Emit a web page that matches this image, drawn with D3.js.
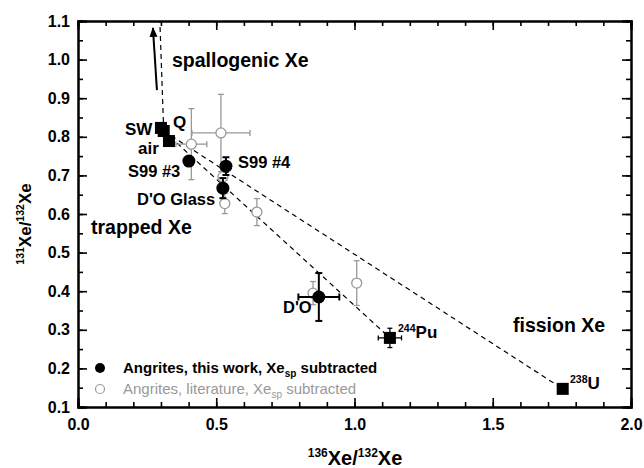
<!DOCTYPE html>
<html>
<head>
<meta charset="utf-8">
<script src="https://cdn.jsdelivr.net/npm/d3@7"></script>
<style>
  html, body { margin: 0; padding: 0; background: #fff; }
  svg { display: block; font-family: "Liberation Sans", Arial, Helvetica, sans-serif; }
  .axis path, .axis line { stroke: #000; }
  .axis path { stroke-width: 2; }
  .axis line { stroke-width: 1.6; }
  .axis text { font-size: 16px; font-weight: bold; fill: #000; }
</style>
</head>
<body>
<svg id="chart" width="644" height="468"></svg>
<script>
// Xe isotope ratios: x = 136Xe/132Xe, y = 131Xe/132Xe
const xMajorTicks = [0.0, 0.5, 1.0, 1.5, 2.0];
const yMajorTicks = [0.1, 0.2, 0.3, 0.4, 0.5, 0.6, 0.7, 0.8, 0.9, 1.0, 1.1];

// Reference compositions (filled squares)
const refNames = ["SW", "Q", "air", "244Pu", "238U"];
const refX     = [0.300, 0.310, 0.329, 1.128, 1.753];
const refY     = [0.823, 0.815, 0.789, 0.279, 0.147];
const refXErr  = [0, 0, 0, 0.042, 0];
const refYErr  = [0, 0, 0, 0.025, 0];

// Angrites, this work (filled circles)
const workNames = ["S99 #3", "S99 #4", "D'O Glass", "D'O"];
const workX     = [0.401, 0.535, 0.524, 0.871];
const workY     = [0.737, 0.724, 0.667, 0.385];
const workXErr  = [0, 0, 0, 0.074];
const workYErr  = [0, 0.023, 0.026, 0.062];

// Angrites, literature (open circles)
const litX    = [0.410, 0.517, 0.524, 0.531, 0.647, 0.850, 1.008];
const litY    = [0.781, 0.810, 0.696, 0.627, 0.605, 0.395, 0.421];
const litXErr = [0.056, 0.105, 0, 0, 0, 0, 0];
const litYErr = [0.092, 0.100, 0.020, 0.026, 0.035, 0.030, 0.058];

// Mixing lines from Q towards fission end-members and the spallation direction
const lineStart = [0.310, 0.815];
const lineEnds  = [[1.128, 0.279], [1.753, 0.147], [0.296, 1.100]];
const spallArrow = [[0.2855, 0.921], [0.271, 1.082]];

const svg = d3.select("#chart");
const L = 78, R = 631, T = 21, B = 407;
const x = d3.scaleLinear().domain([0, 2]).range([L, R]);
const y = d3.scaleLinear().domain([0.1, 1.1]).range([B, T]);

const defs = svg.append("defs");
defs.append("marker")
  .attr("id", "head").attr("viewBox", "0 0 10 10")
  .attr("refX", 9).attr("refY", 5)
  .attr("markerWidth", 5).attr("markerHeight", 5)
  .attr("orient", "auto")
  .append("path").attr("d", "M0,1 L10,5 L0,9 Z").attr("fill", "#000");

// Axes: ticks point inward on all four sides
const fmt = d3.format(".1f");
const xMinor = d3.range(0, 2.0001, 0.1);
const yMinor = d3.range(0.1, 1.1001, 0.05);

function addAxis(gen, tr, cls) {
  return svg.append("g").attr("class", "axis " + (cls || "")).attr("transform", tr).call(gen);
}
addAxis(d3.axisBottom(x).tickValues(xMinor).tickSize(-5).tickFormat(""), `translate(0,${B})`);
addAxis(d3.axisBottom(x).tickValues(xMajorTicks).tickSize(-9).tickPadding(12).tickFormat(fmt), `translate(0,${B})`);
addAxis(d3.axisTop(x).tickValues(xMinor).tickSize(-5).tickFormat(""), `translate(0,${T})`);
addAxis(d3.axisTop(x).tickValues(xMajorTicks).tickSize(-9).tickFormat(""), `translate(0,${T})`);
addAxis(d3.axisLeft(y).tickValues(yMinor).tickSize(-5).tickFormat(""), `translate(${L},0)`);
addAxis(d3.axisLeft(y).tickValues(yMajorTicks).tickSize(-9).tickPadding(8).tickFormat(fmt), `translate(${L},0)`);
addAxis(d3.axisRight(y).tickValues(yMinor).tickSize(-5).tickFormat(""), `translate(${R},0)`);
addAxis(d3.axisRight(y).tickValues(yMajorTicks).tickSize(-9).tickFormat(""), `translate(${R},0)`);
svg.selectAll(".axis .domain").attr("stroke-width", 2);

// Dashed mixing / spallation lines
const plot = svg.append("g");
lineEnds.forEach(e => {
  plot.append("line")
    .attr("x1", x(lineStart[0])).attr("y1", y(lineStart[1]))
    .attr("x2", x(e[0])).attr("y2", y(e[1]))
    .attr("stroke", "#000").attr("stroke-width", 1.2)
    .attr("stroke-dasharray", "5,4");
});
plot.append("line")
  .attr("x1", x(spallArrow[0][0])).attr("y1", y(spallArrow[0][1]))
  .attr("x2", x(spallArrow[1][0])).attr("y2", y(spallArrow[1][1]))
  .attr("stroke", "#000").attr("stroke-width", 2)
  .attr("marker-end", "url(#head)");

function errorBars(g, xs, ys, xe, ye, color, cap, sw) {
  xs.forEach((xv, i) => {
    if (xe[i] > 0) {
      const x0 = x(xv - xe[i]), x1 = x(xv + xe[i]), yy = y(ys[i]);
      g.append("line").attr("x1", x0).attr("x2", x1).attr("y1", yy).attr("y2", yy)
        .attr("stroke", color).attr("stroke-width", sw);
      [x0, x1].forEach(xc => g.append("line").attr("x1", xc).attr("x2", xc)
        .attr("y1", yy - cap).attr("y2", yy + cap).attr("stroke", color).attr("stroke-width", sw));
    }
    if (ye[i] > 0) {
      const y0 = y(ys[i] - ye[i]), y1 = y(ys[i] + ye[i]), xx = x(xv);
      g.append("line").attr("x1", xx).attr("x2", xx).attr("y1", y0).attr("y2", y1)
        .attr("stroke", color).attr("stroke-width", sw);
      [y0, y1].forEach(yc => g.append("line").attr("y1", yc).attr("y2", yc)
        .attr("x1", xx - cap).attr("x2", xx + cap).attr("stroke", color).attr("stroke-width", sw));
    }
  });
}

// Literature data (grey, open)
const litG = svg.append("g");
errorBars(litG, litX, litY, litXErr, litYErr, "#999", 3, 1.3);
litG.selectAll("circle").data(litX).join("circle")
  .attr("cx", (d, i) => x(d)).attr("cy", (d, i) => y(litY[i])).attr("r", 5)
  .attr("fill", "#fff").attr("stroke", "#999").attr("stroke-width", 1.3);

// This work (black, filled)
const workG = svg.append("g");
errorBars(workG, workX, workY, workXErr, workYErr, "#000", 3.5, 2);
workG.selectAll("circle").data(workX).join("circle")
  .attr("cx", d => x(d)).attr("cy", (d, i) => y(workY[i])).attr("r", 6.5)
  .attr("fill", "#000");

// Reference end-members (squares)
const refG = svg.append("g");
errorBars(refG, refX, refY, refXErr, refYErr, "#000", 2.5, 1.3);
const sq = 12;
refG.selectAll("rect").data(refX).join("rect")
  .attr("x", d => x(d) - sq / 2).attr("y", (d, i) => y(refY[i]) - sq / 2)
  .attr("width", sq).attr("height", sq).attr("fill", "#000");

// Text labels
function label(txt, px, py, size, opts) {
  const t = svg.append("text").attr("x", px).attr("y", py)
    .attr("font-size", size).attr("font-weight", "bold").attr("fill", "#000");
  if (opts && opts.sup) {
    t.append("tspan").attr("font-size", size * 0.62).attr("dy", -size * 0.38).text(opts.sup);
    t.append("tspan").attr("dy", size * 0.38).text(txt);
  } else {
    t.text(txt);
  }
  return t;
}
label("spallogenic Xe", 172, 67, 19.5);
label("trapped Xe", 91, 234, 19.5);
label("fission Xe", 513, 332, 19.5);
label(refNames[0], 125, 135, 17);
label(refNames[1], 173, 128, 17);
label(refNames[2], 138, 154, 17);
label(workNames[0], 128, 177, 16.5);
label(workNames[1], 238, 168, 16.5);
label(workNames[2], 137, 205, 16.5);
label(workNames[3], 283, 313, 16.5);
label("Pu", 398, 338, 17, { sup: "244" });
label("U", 570, 389, 17, { sup: "238" });

// Legend
const lg = svg.append("g");
lg.append("circle").attr("cx", 100).attr("cy", 368).attr("r", 5).attr("fill", "#000");
lg.append("circle").attr("cx", 100).attr("cy", 389).attr("r", 4.5)
  .attr("fill", "#fff").attr("stroke", "#999").attr("stroke-width", 1.2);
function legendText(py, color, weight, main) {
  const t = lg.append("text").attr("x", 123).attr("y", py)
    .attr("font-size", 15).attr("font-weight", weight).attr("fill", color);
  t.append("tspan").text(main);
  t.append("tspan").attr("font-size", 10).attr("dy", 4).text("sp");
  t.append("tspan").attr("dy", -4).text(" subtracted");
}
legendText(373, "#000", "bold", "Angrites, this work, Xe");
legendText(394, "#999", "normal", "Angrites, literature, Xe");

// Axis titles
const xt = svg.append("text").attr("x", 355).attr("y", 465).attr("text-anchor", "middle")
  .attr("font-size", 20).attr("font-weight", "bold");
xt.append("tspan").attr("font-size", 12).attr("dy", -8).text("136");
xt.append("tspan").attr("dy", 8).text("Xe/");
xt.append("tspan").attr("font-size", 12).attr("dy", -8).text("132");
xt.append("tspan").attr("dy", 8).text("Xe");

const yt = svg.append("text").attr("transform", "translate(31,224) rotate(-90)")
  .attr("text-anchor", "middle").attr("font-size", 17).attr("font-weight", "bold");
yt.append("tspan").attr("font-size", 10.5).attr("dy", -7).text("131");
yt.append("tspan").attr("dy", 7).text("Xe/");
yt.append("tspan").attr("font-size", 10.5).attr("dy", -7).text("132");
yt.append("tspan").attr("dy", 7).text("Xe");
</script>
</body>
</html>
